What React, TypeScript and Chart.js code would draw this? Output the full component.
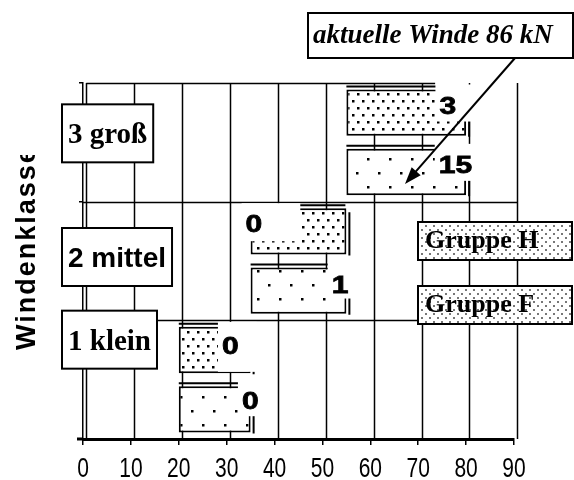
import React, { useEffect, useRef } from 'react';
import { Chart, registerables } from 'chart.js';

Chart.register(...registerables);

// ---------- data ----------
const categories = ['3 groß', '2 mittel', '1 klein'];
const seriesNames = ['Gruppe H', 'Gruppe F'];
const gruppeHStart = [55, 35, 20];
const gruppeHEnd = [80, 55, 35];
const gruppeFStart = [55, 35, 20];
const gruppeFEnd = [80, 55, 35];
const gruppeHCount = [3, 0, 0];
const gruppeFCount = [15, 1, 0];
const xMin = 0;
const xMax = 90;
const xStep = 10;
const axisTitle = 'Windenklasse';
const annotationText = 'aktuelle Winde 86 kN';

// ---------- styles ----------
const SERIF = "'Liberation Serif', 'Times New Roman', serif";
const SANS = "'Liberation Sans', Arial, sans-serif";

function makePattern(
  ctx: CanvasRenderingContext2D,
  w: number,
  h: number,
  dots: [number, number][],
  size: number,
  color: string
) {
  const c = document.createElement('canvas');
  c.width = w;
  c.height = h;
  const g = c.getContext('2d')!;
  g.fillStyle = '#fff';
  g.fillRect(0, 0, w, h);
  g.fillStyle = color;
  dots.forEach(([x, y]) => g.fillRect(x, y, size, size));
  return ctx.createPattern(c, 'repeat')!;
}

// label placement tweaks per [dataset][category]
const labelPlace = [
  [
    { side: 'end', dx: -10, dy: 7, padR: 14, padB: 8 },
    { side: 'start', dx: -5, dy: 7, padR: 38, padB: 9 },
    { side: 'end', dx: -12, dy: 10, padR: 18, padB: 18 },
  ],
  [
    { side: 'end', dx: 6, dy: 7, padR: 6, padB: 8 },
    { side: 'end', dx: 2, dy: 8, padR: 6, padB: 6 },
    { side: 'end', dx: 8, dy: 6, padR: 6, padB: 7 },
  ],
];
const catBoxOffset = [-9, -4, -40];
const catBoxFont = [
  `bold 29px ${SERIF}`,
  `bold 28px ${SANS}`,
  `bold 29px ${SERIF}`,
];
const GRID_SHIFT = 3.3;

export default function App() {
  const ref = useRef<HTMLCanvasElement | null>(null);

  useEffect(() => {
    document.body.style.margin = '0';
    const canvas = ref.current!;
    const ctx = canvas.getContext('2d')!;

    const patH = makePattern(ctx, 10, 14, [[2, 2], [7, 9]], 2.5, '#000');
    const patF = makePattern(ctx, 22, 28, [[4, 4], [15, 18]], 2.5, '#000');
    const patLegend = makePattern(ctx, 8, 8, [[1, 1], [5, 5]], 2, '#777');
    const counts = [gruppeHCount, gruppeFCount];

    const deco = {
      id: 'deco',
      beforeDatasetsDraw(chart: any) {
        const c = chart.ctx as CanvasRenderingContext2D;
        const a = chart.chartArea;
        const xs = chart.scales.x;
        const ys = chart.scales.y;
        c.save();
        c.strokeStyle = '#000';
        c.lineWidth = 1.5;
        // vertical grid lines (slightly shifted, as in the original)
        xs.ticks.forEach((t: any) => {
          const px = Math.round(xs.getPixelForValue(t.value) + GRID_SHIFT) + 0.5;
          c.beginPath();
          c.moveTo(px, a.top);
          c.lineTo(px, a.bottom);
          c.stroke();
        });
        const rightEdge = xs.getPixelForValue(xMax) + GRID_SHIFT;
        const half = (ys.getPixelForValue(1) - ys.getPixelForValue(0)) / 2;
        categories.forEach((_, i) => {
          const py = Math.round(ys.getPixelForValue(i) - half) + 0.5;
          c.beginPath();
          if (i === 0) {
            c.moveTo(a.left + GRID_SHIFT, py);
            c.lineTo(a.left + (a.right - a.left) * 0.817, py);
          } else {
            c.moveTo(a.left, py);
            c.lineTo(rightEdge, py);
          }
          c.stroke();
        });
        // axis line extends a little to the left of 0
        c.lineWidth = 3;
        c.beginPath();
        c.moveTo(a.left - 6, a.bottom);
        c.lineTo(a.left, a.bottom);
        c.stroke();
        c.restore();
      },
      afterDatasetsDraw(chart: any) {
        const c = chart.ctx as CanvasRenderingContext2D;
        const a = chart.chartArea;
        const xs = chart.scales.x;
        const ys = chart.scales.y;
        c.save();

        // bar shadows
        chart.data.datasets.forEach((_: any, d: number) => {
          const meta = chart.getDatasetMeta(d);
          meta.data.forEach((el: any) => {
            const left = Math.min(el.x, el.base);
            const right = Math.max(el.x, el.base);
            const top = el.y - el.height / 2;
            const bottom = el.y + el.height / 2;
            c.strokeStyle = '#000';
            c.lineWidth = 2;
            c.beginPath();
            c.moveTo(left, top - 3);
            c.lineTo(right - 1, top - 3);
            c.moveTo(right + 3, top + 4);
            c.lineTo(right + 3, bottom + 1);
            c.stroke();
          });
        });

        // value labels with white boxes
        const SX = 1.25;
        c.font = `bold 24px ${SANS}`;
        c.textBaseline = 'alphabetic';
        c.textAlign = 'left';
        chart.data.datasets.forEach((_: any, d: number) => {
          const meta = chart.getDatasetMeta(d);
          meta.data.forEach((el: any, i: number) => {
            const p = labelPlace[d][i];
            const left = Math.min(el.x, el.base);
            const right = Math.max(el.x, el.base);
            const top = el.y - el.height / 2;
            const txt = String(counts[d][i]);
            const tw = c.measureText(txt).width * SX;
            const tl = p.side === 'end' ? right + p.dx - tw : left + p.dx;
            const base = top + p.dy + 17;
            let boxR = tl + tw + p.padR;
            if (p.side === 'end') boxR = Math.max(boxR, right + 6);
            c.fillStyle = '#fff';
            c.fillRect(tl - 4, top - 5, boxR - (tl - 4), base + p.padB - (top - 5));
            c.fillStyle = '#000';
            c.strokeStyle = '#000';
            c.lineWidth = 0.8;
            c.save();
            c.translate(tl, base);
            c.scale(SX, 1);
            c.fillText(txt, 0, 0);
            c.strokeText(txt, 0, 0);
            c.restore();
          });
        });

        // category label boxes
        categories.forEach((cat, i) => {
          const cy = ys.getPixelForValue(i) + catBoxOffset[i];
          c.font = catBoxFont[i];
          const tw = c.measureText(cat).width;
          const bx = a.left - 21;
          const bw = tw + 12;
          const bh = 58;
          c.fillStyle = '#fff';
          c.fillRect(bx, cy - bh / 2, bw, bh);
          c.strokeStyle = '#000';
          c.lineWidth = 2;
          c.strokeRect(bx, cy - bh / 2, bw, bh);
          c.fillStyle = '#000';
          c.textAlign = 'left';
          c.textBaseline = 'alphabetic';
          c.fillText(cat, bx + 6, cy + 10);
        });

        // legend boxes
        seriesNames.forEach((name, d) => {
          const bx = 418;
          const by = d === 0 ? 222 : 286;
          c.fillStyle = patLegend;
          c.fillRect(bx, by, 154, 38);
          c.strokeStyle = '#000';
          c.lineWidth = 2;
          c.strokeRect(bx, by, 154, 38);
          c.fillStyle = '#000';
          c.font = `bold 26px ${SERIF}`;
          c.textAlign = 'left';
          c.fillText(name, bx + 7, by + 26);
        });

        // annotation box + arrow
        c.fillStyle = '#fff';
        c.fillRect(308, 13, 265, 45);
        c.strokeStyle = '#000';
        c.lineWidth = 2;
        c.strokeRect(308, 13, 265, 45);
        c.fillStyle = '#000';
        c.font = `italic bold 27px ${SERIF}`;
        c.fillText(annotationText, 313, 43);

        const x1 = 515, y1 = 58, x2 = 405, y2 = 184;
        const ang = Math.atan2(y2 - y1, x2 - x1);
        c.lineWidth = 2;
        c.beginPath();
        c.moveTo(x1, y1);
        c.lineTo(x2 - Math.cos(ang) * 10, y2 - Math.sin(ang) * 10);
        c.stroke();
        c.beginPath();
        c.moveTo(x2, y2);
        c.lineTo(x2 - Math.cos(ang) * 17 + Math.sin(ang) * 6, y2 - Math.sin(ang) * 17 - Math.cos(ang) * 6);
        c.lineTo(x2 - Math.cos(ang) * 17 - Math.sin(ang) * 6, y2 - Math.sin(ang) * 17 + Math.cos(ang) * 6);
        c.closePath();
        c.fill();

        // x tick labels (condensed like the original)
        c.font = `28px ${SANS}`;
        c.textAlign = 'center';
        c.textBaseline = 'alphabetic';
        c.fillStyle = '#000';
        xs.ticks.forEach((t: any) => {
          const px = xs.getPixelForValue(t.value);
          c.save();
          c.translate(px, a.bottom + 38);
          c.scale(0.75, 1);
          c.fillText(String(t.value), 0, 0);
          c.restore();
        });

        // rotated axis title (clipped at top like the original)
        c.save();
        c.beginPath();
        c.rect(0, 155, 80, 325);
        c.clip();
        c.translate(35, 350);
        c.rotate(-Math.PI / 2);
        c.font = `bold 27px ${SANS}`;
        (c as any).letterSpacing = '2px';
        c.fillStyle = '#000';
        c.textAlign = 'left';
        c.textBaseline = 'alphabetic';
        c.fillText(axisTitle, 0, 0);
        c.restore();

        c.restore();
      },
    };

    const chart = new Chart(ctx, {
      type: 'bar',
      data: {
        labels: categories,
        datasets: [
          {
            label: seriesNames[0],
            data: categories.map((_, i) => [gruppeHStart[i], gruppeHEnd[i]]) as any,
            backgroundColor: patH,
            borderColor: '#000',
            borderWidth: 2,
            borderSkipped: false,
            barPercentage: 0.78,
            categoryPercentage: 1,
          },
          {
            label: seriesNames[1],
            data: categories.map((_, i) => [gruppeFStart[i], gruppeFEnd[i]]) as any,
            backgroundColor: patF,
            borderColor: '#000',
            borderWidth: 2,
            borderSkipped: false,
            barPercentage: 0.78,
            categoryPercentage: 1,
          },
        ],
      },
      options: {
        indexAxis: 'y',
        responsive: false,
        animation: false,
        layout: { padding: { top: 83, right: 60, left: 0, bottom: 0 } },
        plugins: { legend: { display: false }, tooltip: { enabled: false } },
        scales: {
          x: {
            min: xMin,
            max: xMax,
            ticks: { stepSize: xStep, display: false, autoSkip: false },
            grid: { color: '#000', lineWidth: 1.5, tickLength: 6, drawOnChartArea: false },
            border: { color: '#000', width: 3 },
            afterFit: (s: any) => {
              s.height = 41;
            },
          },
          y: {
            ticks: { display: false },
            grid: { color: '#000', lineWidth: 1.5, tickLength: 4, drawOnChartArea: false },
            border: { color: '#000', width: 1.5 },
            afterFit: (s: any) => {
              s.width = 83;
            },
          },
        },
      },
      plugins: [deco],
    });

    return () => chart.destroy();
  }, []);

  return (
    <div style={{ width: 574, height: 480, background: '#fff' }}>
      <canvas ref={ref} width={574} height={480} style={{ display: 'block' }} />
    </div>
  );
}
